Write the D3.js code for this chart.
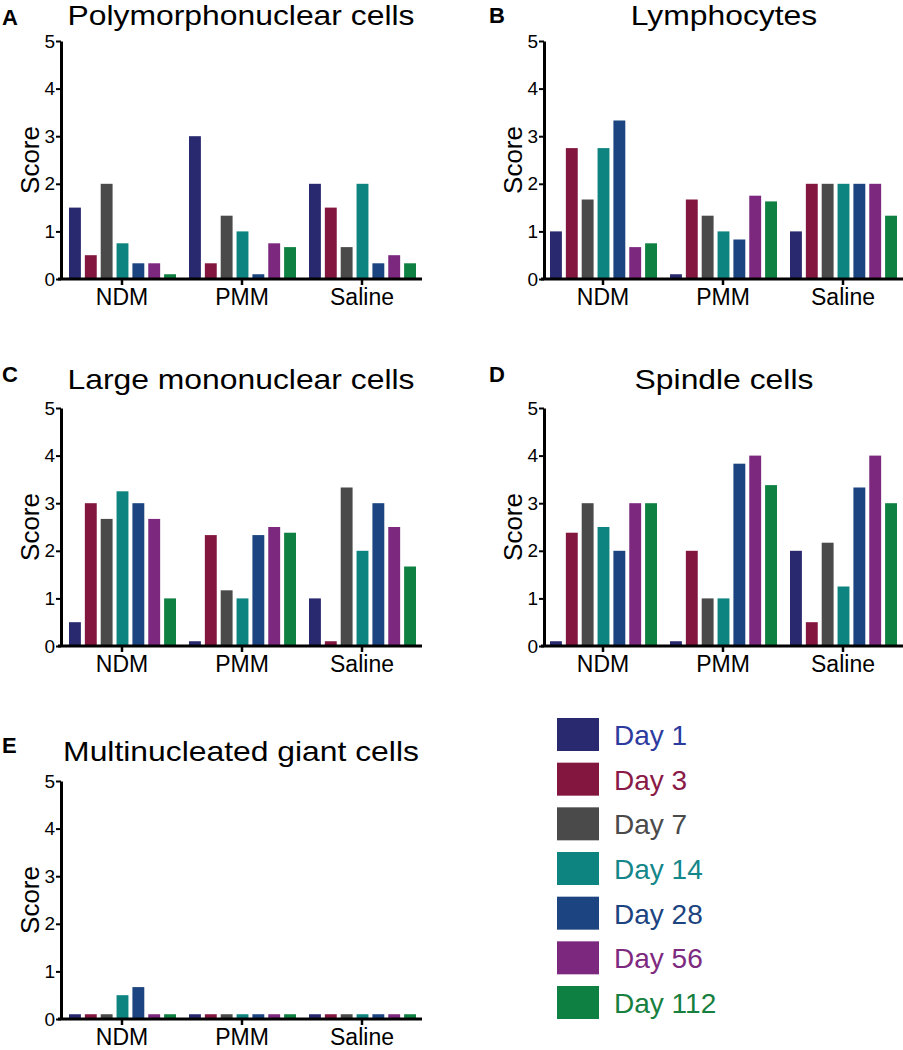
<!DOCTYPE html>
<html>
<head>
<meta charset="utf-8">
<script src="https://cdn.jsdelivr.net/npm/d3@7"></script>
<style>
  html, body { margin: 0; padding: 0; background: #fff; }
  svg { display: block; }
  text { font-family: "Liberation Sans", Arial, Helvetica, sans-serif; }
</style>
</head>
<body>
<svg id="chart" width="903" height="1050"></svg>
<script>
// ---------- data ----------
const groups = ["NDM", "PMM", "Saline"];
const days = ["Day 1", "Day 3", "Day 7", "Day 14", "Day 28", "Day 56", "Day 112"];
const yTickValues = [0, 1, 2, 3, 4, 5];

// rows = groups (NDM, PMM, Saline), columns = days
const polymorphonuclear = [
  [1.5, 0.5, 2.0, 0.75, 0.33, 0.33, 0.1],
  [3.0, 0.33, 1.33, 1.0, 0.1, 0.75, 0.67],
  [2.0, 1.5, 0.67, 2.0, 0.33, 0.5, 0.33]
];
const lymphocytes = [
  [1.0, 2.75, 1.67, 2.75, 3.33, 0.67, 0.75],
  [0.1, 1.67, 1.33, 1.0, 0.83, 1.75, 1.63],
  [1.0, 2.0, 2.0, 2.0, 2.0, 2.0, 1.33]
];
const largeMononuclear = [
  [0.5, 3.0, 2.67, 3.25, 3.0, 2.67, 1.0],
  [0.1, 2.33, 1.17, 1.0, 2.33, 2.5, 2.38],
  [1.0, 0.1, 3.33, 2.0, 3.0, 2.5, 1.67]
];
const spindle = [
  [0.1, 2.38, 3.0, 2.5, 2.0, 3.0, 3.0],
  [0.1, 2.0, 1.0, 1.0, 3.83, 4.0, 3.38],
  [2.0, 0.5, 2.17, 1.25, 3.33, 4.0, 3.0]
];
const giantCells = [
  [0.1, 0.1, 0.1, 0.5, 0.67, 0.1, 0.1],
  [0.1, 0.1, 0.1, 0.1, 0.1, 0.1, 0.1],
  [0.1, 0.1, 0.1, 0.1, 0.1, 0.1, 0.1]
];

const panelLetters = ["A", "B", "C", "D", "E"];
const panelTitles = ["Polymorphonuclear cells", "Lymphocytes", "Large mononuclear cells", "Spindle cells", "Multinucleated giant cells"];
const panelData = [polymorphonuclear, lymphocytes, largeMononuclear, spindle, giantCells];

const barColors = ["#29296f", "#83163f", "#4a4a4a", "#0e8480", "#1b4480", "#7d287f", "#0e8041"];
const legendTextColors = ["#2d3b9e", "#8a1a47", "#4a4a4a", "#138789", "#1b4480", "#7e2a80", "#17803e"];

// ---------- layout ----------
const cols = [{ axisX: 61, bandStart: 62 }, { axisX: 544, bandStart: 543 }];
const rows = [{ y0: 279, y5: 41, titleY: 25 }, { y0: 646, y5: 408, titleY: 389 }, { y0: 1019, y5: 781, titleY: 761 }];
const letterPos = [[2, 25], [489, 23], [2, 382], [489, 382], [2, 753]];
const bandWidth = 360;

const svg = d3.select("#chart");

panelData.forEach((data, i) => {
  const c = cols[i % 2];
  const r = rows[Math.floor(i / 2)];
  const g = svg.append("g");

  const x = d3.scaleBand().domain(groups).range([c.bandStart, c.bandStart + bandWidth]).padding(0);
  const xi = d3.scaleBand().domain(days).range([7, 114]).paddingInner(0.25).paddingOuter(0);
  const y = d3.scaleLinear().domain([0, 5]).range([r.y0, r.y5]);

  // bars
  groups.forEach((grp, gi) => {
    g.append("g").selectAll("rect").data(data[gi]).join("rect")
      .attr("x", (d, di) => x(grp) + xi(days[di]))
      .attr("y", d => y(d))
      .attr("width", xi.bandwidth())
      .attr("height", d => y(0) - y(d))
      .attr("fill", (d, di) => barColors[di]);
  });

  // y axis
  const yAxis = g.append("g")
    .attr("transform", `translate(${c.axisX},0)`)
    .call(d3.axisLeft(y).tickValues(yTickValues).tickFormat(d3.format("d")).tickSize(5).tickSizeOuter(0).tickPadding(1));
  yAxis.select(".domain").attr("stroke", "#000").attr("stroke-width", 3);
  yAxis.selectAll(".tick line").attr("stroke", "#000").attr("stroke-width", 2);
  yAxis.selectAll(".tick text").attr("font-size", 19).attr("fill", "#000");

  // x axis
  const xAxis = g.append("g")
    .attr("transform", `translate(0,${r.y0})`)
    .call(d3.axisBottom(x).tickSize(6).tickSizeOuter(0).tickPadding(4));
  xAxis.select(".domain").remove();
  xAxis.append("line")
    .attr("x1", c.axisX - 3).attr("x2", x.range()[1])
    .attr("y1", 0).attr("y2", 0)
    .attr("stroke", "#000").attr("stroke-width", 3);
  xAxis.selectAll(".tick line").attr("stroke", "#000").attr("stroke-width", 2.5);
  xAxis.selectAll(".tick text").attr("font-size", 23).attr("fill", "#000");

  // y label
  g.append("text")
    .attr("transform", `translate(${c.axisX - 22},${(r.y0 + r.y5) / 2}) rotate(-90)`)
    .attr("text-anchor", "middle")
    .attr("font-size", 26)
    .text("Score");

  // title
  g.append("text")
    .attr("transform", `translate(${c.axisX + 180},${r.titleY}) scale(1.18,1)`)
    .attr("text-anchor", "middle")
    .attr("font-size", 27)
    .text(panelTitles[i]);

  // panel letter
  g.append("text")
    .attr("x", letterPos[i][0])
    .attr("y", letterPos[i][1])
    .attr("font-size", 22)
    .attr("font-weight", "bold")
    .text(panelLetters[i]);
});

// legend
const legend = svg.append("g");
const ly = d3.scalePoint().domain(days).range([718, 986]);
legend.selectAll("rect").data(days).join("rect")
  .attr("x", 557).attr("y", d => ly(d))
  .attr("width", 42).attr("height", 33)
  .attr("fill", (d, i) => barColors[i]);
legend.selectAll("text").data(days).join("text")
  .attr("x", 614).attr("y", d => ly(d) + 27)
  .attr("font-size", 28)
  .attr("fill", (d, i) => legendTextColors[i])
  .text(d => d);
</script>
</body>
</html>
